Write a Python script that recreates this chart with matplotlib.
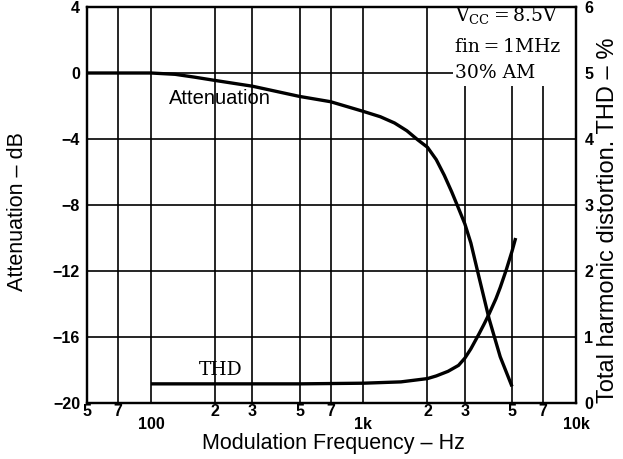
import matplotlib
matplotlib.use("Agg")
import matplotlib.pyplot as plt
from matplotlib.patches import Rectangle

# ---- data ----
att_freq = [50, 100, 130, 160, 200, 300, 500, 700, 1000, 1200, 1400, 1600, 1800, 2000,
            2200, 2400, 2600, 2800, 3000, 3200, 3500, 3900, 4400, 5000]
att_db = [0.0, 0.0, -0.08, -0.25, -0.45, -0.8, -1.42, -1.74, -2.33, -2.65, -3.03, -3.5, -4.05, -4.5,
          -5.25, -6.2, -7.2, -8.2, -9.15, -10.3, -12.4, -14.9, -17.2, -19.0]

thd_freq = [100, 500, 1000, 1500, 2000, 2200, 2500, 2800, 3000, 3200, 3500, 3700, 3900, 4200, 4400, 4700, 5000, 5200]
thd_pct = [0.29, 0.29, 0.30, 0.32, 0.37, 0.41, 0.48, 0.57, 0.68, 0.82, 1.05, 1.2, 1.35, 1.58, 1.75, 2.02, 2.3, 2.5]

x_major = [100, 1000, 10000]
x_major_labels = ["100", "1k", "10k"]
x_minor = [50, 70, 200, 300, 500, 700, 2000, 3000, 5000, 7000]
x_minor_labels = ["5", "7", "2", "3", "5", "7", "2", "3", "5", "7"]
y_left_ticks = [-20, -16, -12, -8, -4, 0, 4]
y_left_labels = ["\u221220", "\u221216", "\u221212", "\u22128", "\u22124", "0", "4"]
y_right_ticks = [0, 1, 2, 3, 4, 5, 6]
y_right_labels = ["0", "1", "2", "3", "4", "5", "6"]

cond_lines = ["V$_{\\mathrm{CC}}$\u2009=\u20098.5V", "fin\u2009=\u20091MHz", "30% AM"]

# ---- style ----
plt.rcParams['font.family'] = ['Liberation Sans', 'DejaVu Sans']
plt.rcParams['mathtext.fontset'] = 'dejavuserif'

fig = plt.figure(figsize=(6.23, 4.59), dpi=100)
ax = fig.add_axes([87/623, 1-403/459, 489/623, 396/459])
ax.set_xscale('log')
ax.set_xlim(50, 10000)
ax.set_ylim(-20, 4)

for s in ax.spines.values():
    s.set_linewidth(1.6)
    s.set_color('black')

# ticks / grid
ax.set_xticks(x_major)
ax.set_xticklabels(x_major_labels)
ax.set_xticks(x_minor, minor=True)
ax.set_xticklabels(x_minor_labels, minor=True)
ax.set_yticks(y_left_ticks)
ax.set_yticklabels(y_left_labels)
ax.tick_params(axis='both', which='both', length=0)
ax.tick_params(axis='x', which='major', pad=10, labelsize=11.5)
ax.tick_params(axis='x', which='minor', pad=1, labelsize=11.5)
ax.tick_params(axis='y', which='major', pad=5, labelsize=11.5)
for lab in ax.get_xticklabels(which='both') + ax.get_yticklabels():
    lab.set_fontweight('bold')
ax.grid(True, which='both', axis='x', color='black', linewidth=1.2, zorder=0.5)
ax.grid(True, which='major', axis='y', color='black', linewidth=1.2, zorder=0.5)
ax.set_axisbelow(True)

# attenuation curve
ax.plot(att_freq, att_db, color='black', linewidth=2.4, zorder=3,
        solid_capstyle='butt', solid_joinstyle='round')

# THD curve on right axis
ax2 = ax.twinx()
ax2.set_ylim(0, 6)
ax2.set_yticks(y_right_ticks)
ax2.set_yticklabels(y_right_labels)
ax2.tick_params(axis='y', length=0, pad=6, labelsize=11.5)
for lab in ax2.get_yticklabels():
    lab.set_fontweight('bold')
for s in ax2.spines.values():
    s.set_linewidth(1.6)
ax2.plot(thd_freq, thd_pct, color='black', linewidth=2.4, zorder=3,
         solid_capstyle='butt', solid_joinstyle='round')

# condition box (white, hides grid)
box_x0 = (453-87)/489
box_y0 = (403-86)/396
ax.add_patch(Rectangle((box_x0, box_y0), 1-box_x0, 1-box_y0, transform=ax.transAxes,
                       facecolor='white', edgecolor='none', zorder=1))
cond_y = [0.978, 0.898, 0.834]
for t, yy in zip(cond_lines, cond_y):
    ax.text((455-87)/489, yy, t, transform=ax.transAxes, ha='left', va='center',
            fontsize=13.5, family='DejaVu Serif', zorder=4)

# curve labels
fig.text(220/623, 1-98/459, "Attenuation", ha='center', va='center', fontsize=14.5)
fig.text(221/623, 1-370/459, "THD", ha='center', va='center', fontsize=13.5, family='DejaVu Serif')

# axis labels
fig.text(333/623, 1-444/459, "Modulation Frequency \u2013 Hz", ha='center', va='center', fontsize=15.5)
fig.text(18/623, 1-212/459, "Attenuation \u2013 dB", ha='center', va='center', fontsize=15.5, rotation=90)
fig.text(608/623, 1-220/459, "Total harmonic distortion. THD \u2013 %", ha='center', va='center',
         fontsize=17, rotation=90)

fig.savefig("out.png", dpi=100, facecolor='white')
